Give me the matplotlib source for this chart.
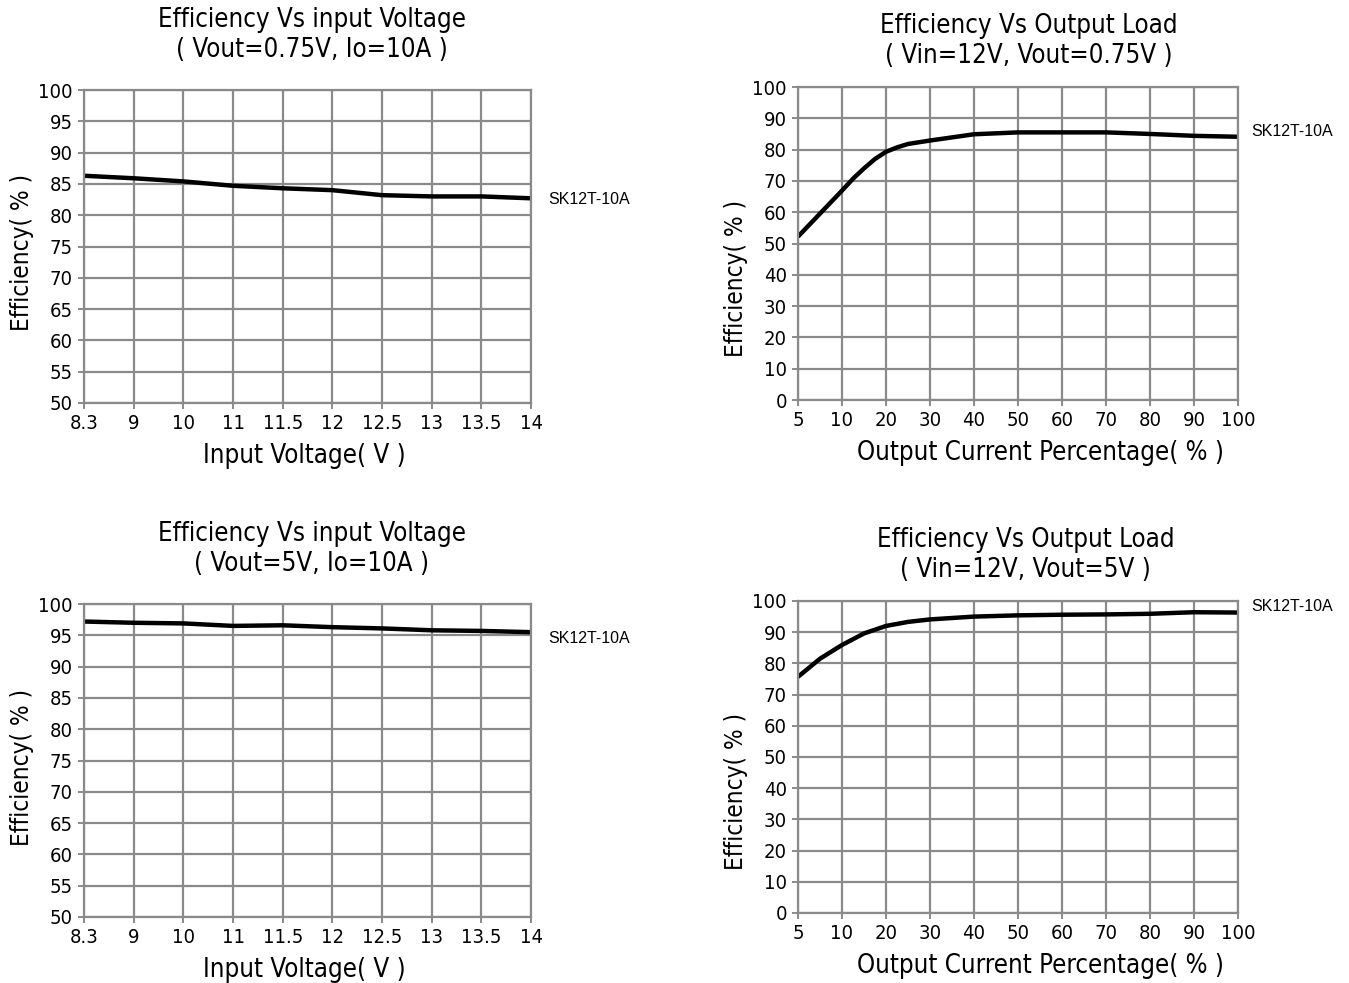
import numpy as np
import matplotlib
matplotlib.use("Agg")
import matplotlib.pyplot as plt

# ---- data ----
vin_ticks = [8.3, 9, 10, 11, 11.5, 12, 12.5, 13, 13.5, 14]
vin_labels = ["8.3", "9", "10", "11", "11.5", "12", "12.5", "13", "13.5", "14"]
eff_vin_075 = [86.3, 85.9, 85.4, 84.7, 84.3, 84.0, 83.2, 83.0, 83.0, 82.7]
eff_vin_5 = [97.2, 97.0, 96.9, 96.5, 96.6, 96.3, 96.1, 95.8, 95.7, 95.5]

load_ticks = [5, 10, 20, 30, 40, 50, 60, 70, 80, 90, 100]
load_labels = ["5", "10", "20", "30", "40", "50", "60", "70", "80", "90", "100"]
load_x_075 = [5, 10, 12.5, 15, 17.5, 20, 22.5, 25, 30, 40, 50, 60, 70, 80, 90, 100]
eff_load_075 = [52.2, 66.9, 70.7, 74.0, 77.0, 79.3, 80.7, 81.8, 82.9, 84.9, 85.5,
                85.5, 85.5, 85.0, 84.4, 84.1]
load_x_5 = [5, 7.5, 10, 15, 20, 25, 30, 40, 50, 60, 70, 80, 90, 100]
eff_load_5 = [75.7, 81.5, 85.9, 89.6, 92.0, 93.3, 94.1, 95.0, 95.4, 95.6, 95.7,
              95.9, 96.4, 96.3]

series_name = "SK12T-10A"

titles = [
    "Efficiency Vs input Voltage\n( Vout=0.75V, Io=10A )",
    "Efficiency Vs Output Load\n( Vin=12V, Vout=0.75V )",
    "Efficiency Vs input Voltage\n( Vout=5V, Io=10A )",
    "Efficiency Vs Output Load\n( Vin=12V, Vout=5V )",
]

FONT = dict(family="DejaVu Sans", stretch="condensed")
GRID = "#8a8a8a"

fig = plt.figure(figsize=(13.49, 9.83), dpi=100)

W, H = 1349, 983
def axes_px(l, t, r, b):
    return fig.add_axes([l / W, 1 - b / H, (r - l) / W, (b - t) / H])

def style(ax, ticks, labels, ylim, ystep, xlabel, title, title_pad,
          title_x, xlabel_x, ylabel_y):
    pos = np.arange(len(ticks))
    ax.set_xlim(0, len(ticks) - 1)
    ax.set_ylim(*ylim)
    ax.set_xticks(pos)
    ax.set_xticklabels(labels, fontsize=14.5, **FONT)
    yt = np.arange(ylim[0], ylim[1] + 0.1, ystep)
    ax.set_yticks(yt)
    ax.set_yticklabels([f"{int(v)}" for v in yt], fontsize=14.5, **FONT)
    ax.grid(True, color=GRID, linewidth=1.6)
    ax.set_axisbelow(True)
    for s in ax.spines.values():
        s.set_color(GRID)
        s.set_linewidth(1.6)
    ax.tick_params(length=4, width=1.4, color=GRID, pad=4)
    ax.set_xlabel(xlabel, fontsize=18.5, labelpad=7, **FONT)
    ax.xaxis.label.set_x(xlabel_x)
    ax.set_ylabel("Efficiency( % )", fontsize=17.5, labelpad=3, **FONT)
    ax.yaxis.label.set_y(ylabel_y)
    t = ax.set_title(title, fontsize=18.5, pad=title_pad, linespacing=1.2, **FONT)
    t.set_x(title_x)
    return pos

def xmap(x, ticks):
    return np.interp(x, ticks, np.arange(len(ticks)))

LINE = dict(color="black", lw=3.2, solid_capstyle="butt", solid_joinstyle="round")
LBL = dict(fontsize=11.5, family="Liberation Sans", va="center", ha="left")

# top-left
ax1 = axes_px(84, 90, 531, 403)
style(ax1, vin_ticks, vin_labels, (50, 100), 5, "Input Voltage( V )", titles[0], 24,
      0.509, 0.492, 0.482)
ax1.plot(xmap(vin_ticks, vin_ticks), eff_vin_075, **LINE)
ax1.text(1.038, 0.649, series_name, transform=ax1.transAxes, **LBL)

# top-right
ax2 = axes_px(798, 87, 1238, 400)
style(ax2, load_ticks, load_labels, (0, 100), 10, "Output Current Percentage( % )",
      titles[1], 17, 0.525, 0.552, 0.387)
ax2.plot(xmap(load_x_075, load_ticks), eff_load_075, **LINE)
ax2.text(1.03, 0.859, series_name, transform=ax2.transAxes, **LBL)

# bottom-left
ax3 = axes_px(84, 604, 531, 917)
style(ax3, vin_ticks, vin_labels, (50, 100), 5, "Input Voltage( V )", titles[2], 24,
      0.509, 0.492, 0.479)
ax3.plot(xmap(vin_ticks, vin_ticks), eff_vin_5, **LINE)
ax3.text(1.038, 0.891, series_name, transform=ax3.transAxes, **LBL)

# bottom-right
ax4 = axes_px(798, 601, 1238, 913)
style(ax4, load_ticks, load_labels, (0, 100), 10, "Output Current Percentage( % )",
      titles[3], 17, 0.518, 0.552, 0.391)
ax4.plot(xmap(load_x_5, load_ticks), eff_load_5, **LINE)
ax4.text(1.03, 0.981, series_name, transform=ax4.transAxes, **LBL)

fig.savefig("out.png", dpi=100)
